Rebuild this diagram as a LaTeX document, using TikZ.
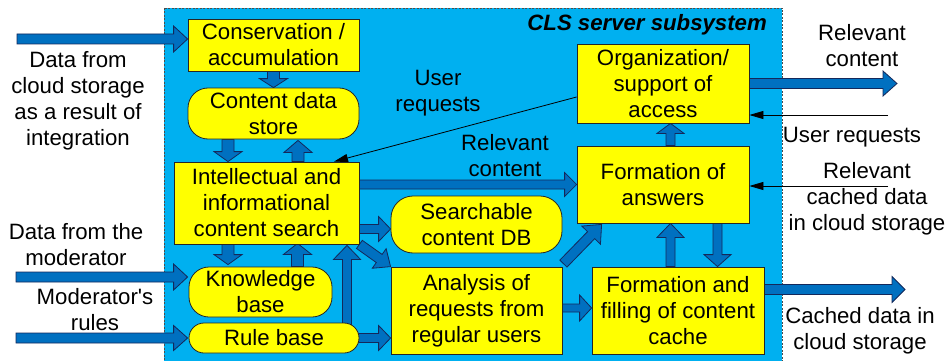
\documentclass[tikz,border=0pt]{standalone}
\usepackage{fontspec}
\setmainfont{Liberation Sans}
\usetikzlibrary{calc,arrows.meta}

\definecolor{skyback}{RGB}{0,176,240}
\definecolor{arrowblue}{RGB}{0,112,192}
\definecolor{arrowedge}{RGB}{20,40,90}
\definecolor{boxyellow}{RGB}{255,255,0}

\pgfdeclarelayer{back}
\pgfdeclarelayer{mid}
\pgfsetlayers{back,mid,main}

% straight apostrophe, set as a glyph so the TeX ligature mapping leaves it alone
\newcommand\straightquote{\XeTeXglyph\XeTeXcharglyph"0027\relax}

% block arrow from #1 to #2: shaft half width #3, head half width #4, head length #5
\newcommand\fatarrow[5]{%
  \coordinate (fa-s) at (#1);
  \coordinate (fa-e) at (#2);
  \coordinate (fa-h) at ($(fa-e)!#5!(fa-s)$);
  \filldraw[fat] ($(fa-s)!#3!90:(fa-e)$) -- ($(fa-h)!#3!90:(fa-e)$)
    -- ($(fa-h)!#4!90:(fa-e)$) -- (fa-e) -- ($(fa-h)!#4!-90:(fa-e)$)
    -- ($(fa-h)!#3!-90:(fa-e)$) -- ($(fa-s)!#3!-90:(fa-e)$) -- cycle;}

\tikzset{
  x=1pt, y=-1pt,
  every node/.style={font=\fontsize{22.2}{26}\selectfont, inner sep=0pt, align=center},
  box/.style={draw=black!85, line width=0.8pt, fill=boxyellow},
  fat/.style={fill=arrowblue, draw=arrowedge, line width=0.8pt, line join=miter},
  thin/.style={draw=black, line width=0.8pt, -{Triangle[length=14pt,width=8pt]}},
  lbl/.style={text=black}
}

\begin{document}
\begin{tikzpicture}
\useasboundingbox (0,0) rectangle (947,361);

% subsystem area
\begin{pgfonlayer}{back}
  \filldraw[fill=skyback, draw=gray!60!black, line width=0.7pt,
    dash pattern=on 2pt off 1.5pt] (164,8) rectangle (782,366);
\end{pgfonlayer}
\node[anchor=east, font=\fontsize{22.2}{26}\selectfont\bfseries\itshape] (title) at (767,25) {CLS server subsystem};

% blocks
\node[box, minimum width=171pt, minimum height=52pt] (cons) at (273.5,45) {Conservation /\\accumulation};
\node[box, rounded corners=20pt, minimum width=171pt, minimum height=51pt] (cds) at (273.5,113.5) {Content data\\store};
\node[box, minimum width=185pt, minimum height=82pt] (ics) at (266.5,203) {Intellectual and\\informational\\content search};
\node[box, rounded corners=20pt, minimum width=143pt, minimum height=50pt] (kb) at (260.5,292) {Knowledge\\base};
\node[box, rounded corners=15pt, minimum width=170pt, minimum height=30pt] (rb) at (274,338) {Rule base};
\node[box, rounded corners=22pt, minimum width=171pt, minimum height=57pt] (sdb) at (476.5,224.5) {Searchable\\content DB};
\node[box, minimum width=171pt, minimum height=87pt] (arq) at (476.5,310.5) {Analysis of\\requests from\\regular users};
\node[box, minimum width=172pt, minimum height=79pt] (org) at (663,83.5) {Organization/\\support of\\access};
\node[box, minimum width=172pt, minimum height=77pt] (foa) at (663,184.5) {Formation of\\answers};
\node[box, minimum width=172pt, minimum height=87pt] (ffc) at (678,310.5) {Formation and\\filling of content\\cache};

% free ends of the outer connectors
\coordinate (ain) at (17,39);
\coordinate (sin) at (16,277);
\coordinate (tin) at (16,338);
\coordinate (qend) at (897,83.5);
\coordinate (rend) at (905,289.5);
\coordinate (ureq) at (888,115);
\coordinate (rcach) at (888,186);

% block arrows
\begin{pgfonlayer}{mid}
  \fatarrow{ain}{$(cons.west)+(0,-6)$}{5pt}{13pt}{14pt}
  \fatarrow{sin}{$(kb.west)+(-1,-15)$}{5pt}{13pt}{14pt}
  \fatarrow{tin}{$(rb.west)+(-1,0)$}{5pt}{12.5pt}{14pt}
  \fatarrow{cons.south}{cds.north}{6pt}{14pt}{9pt}
  \fatarrow{$(cds.south)+(-45.5,0)$}{$(ics.north)+(-38.5,0)$}{6pt}{14pt}{10pt}
  \fatarrow{$(ics.north)+(31.5,0)$}{$(cds.south)+(24.5,1)$}{6pt}{14pt}{12pt}
  \fatarrow{$(ics.south)+(-38.5,0)$}{$(kb.north)+(-32.5,-2)$}{6pt}{14pt}{10pt}
  \fatarrow{$(kb.north)+(37,0)$}{$(ics.south)+(31,-1)$}{6pt}{14pt}{11pt}
  \fatarrow{$(rb.north)+(73,2)$}{$(ics.south)+(80.5,1)$}{4.5pt}{13.5pt}{14pt}
  \fatarrow{$(rb.east)+(-3,0)$}{$(arq.west)+(0,27.5)$}{4.5pt}{12.5pt}{12pt}
  \fatarrow{$(ics.east)+(0,26)$}{$(sdb.west)+(0,4.5)$}{4.5pt}{12.5pt}{12pt}
  \fatarrow{ics.south east}{arq.north west}{5pt}{12pt}{14pt}
  \fatarrow{$(ics.east)+(0,-18.5)$}{foa.west}{4.5pt}{12pt}{12pt}
  \fatarrow{$(arq.north east)+(1,-3)$}{$(foa.south west)+(25,1)$}{5pt}{13pt}{15pt}
  \fatarrow{$(arq.east)+(0,-2.5)$}{$(ffc.west)+(0,-2.5)$}{4pt}{13pt}{12pt}
  \fatarrow{$(ffc.north)+(-7.5,0)$}{$(foa.south)+(7.5,0)$}{4.5pt}{13.5pt}{14pt}
  \fatarrow{$(foa.south)+(54.5,0)$}{$(ffc.north)+(39.5,0)$}{4.5pt}{13.5pt}{12pt}
  \fatarrow{$(foa.north)+(7.5,0)$}{$(org.south)+(7.5,0)$}{4.5pt}{13.5pt}{10pt}
  \fatarrow{org.east}{qend}{5pt}{12.5pt}{14pt}
  \fatarrow{$(ffc.east)+(0,-21)$}{rend}{5pt}{13pt}{13pt}
\end{pgfonlayer}

% request and data lines
\draw[thin] ($(org.west)+(0,13.5)$) -- ($(ics.north)+(67.5,0)$);
\draw[thin] (ureq) -- ($(org.east)+(0,31.5)$);
\draw[thin] (rcach) -- ($(foa.east)+(0,1.5)$);

% labels
\node[lbl] (l-cloud) at (78,100.5) {Data from\\cloud storage\\as a result of\\integration};
\node[lbl] (l-mod) at (76,245) {Data from the\\moderator};
\node[lbl] (l-rules) at (95,309.5) {Moderator\straightquote s\\rules};
\node[lbl] (l-ureq1) at (438,93) {User\\requests};
\node[lbl] (l-rel1) at (505,155.5) {Relevant\\content};
\node[lbl] (l-rel2) at (862,45.5) {Relevant\\content};
\node[lbl] (l-ureq2) at (852,137) {User requests};
\node[lbl] (l-rcach) at (867,199) {Relevant\\cached data\\in cloud storage};
\node[lbl] (l-cach) at (860,330.5) {Cached data in\\cloud storage};
\end{tikzpicture}
\end{document}
